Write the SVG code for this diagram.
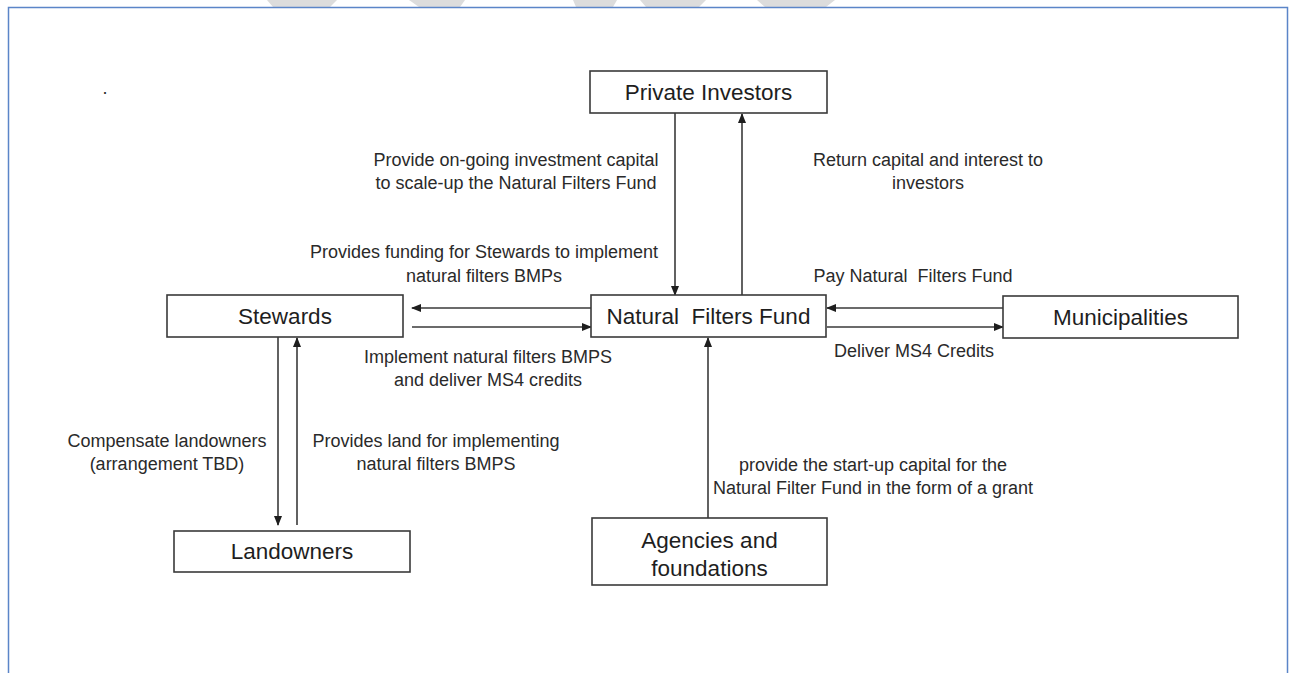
<svg xmlns="http://www.w3.org/2000/svg" width="1289" height="673" viewBox="0 0 1289 673">
<style>
.box{fill:#fff;stroke:#3a3a3a;stroke-width:1.6}
.node{font-family:"Liberation Sans",Arial,sans-serif;font-size:22.5px;fill:#1e1e1e;text-anchor:middle}
.lbl{font-family:"Liberation Sans",Arial,sans-serif;font-size:18px;fill:#2a2a2a;text-anchor:middle}
.ln{stroke:#3a3a3a;stroke-width:1.6;fill:none}
.wm{fill:#dcdcdc}
</style>
<defs>
<marker id="ah" markerWidth="10" markerHeight="8" refX="9" refY="4" orient="auto" markerUnits="userSpaceOnUse">
<path d="M0,0 L10,4 L0,8 Z" fill="#1e1e1e"/>
</marker>
</defs>
<rect width="1289" height="673" fill="#fff"/>
<g id="watermark">
<polygon class="wm" points="267,0 337,0 330,7 273,7"/>
<polygon class="wm" points="409,0 465,0 460,7 419,7"/>
<polygon class="wm" points="573,0 617,0 613,7 576,7"/>
<polygon class="wm" points="640,0 706,0 699,7 646,7"/>
<polygon class="wm" points="757,0 835,0 826,7 765,7"/>
</g>
<rect x="8.5" y="7.5" width="1279" height="700" fill="none" stroke="#5b85c8" stroke-width="1.5"/>
<text class="lbl" x="105" y="94">.</text>
<g id="connectors">
<line class="ln" x1="675" y1="113" x2="675" y2="295" marker-end="url(#ah)"/>
<line class="ln" x1="742" y1="295" x2="742" y2="114" marker-end="url(#ah)"/>
<line class="ln" x1="591" y1="308" x2="412" y2="308" marker-end="url(#ah)"/>
<line class="ln" x1="412" y1="327" x2="591" y2="327" marker-end="url(#ah)"/>
<line class="ln" x1="1003" y1="308" x2="827" y2="308" marker-end="url(#ah)"/>
<line class="ln" x1="827" y1="327" x2="1003" y2="327" marker-end="url(#ah)"/>
<line class="ln" x1="278" y1="337" x2="278" y2="525" marker-end="url(#ah)"/>
<line class="ln" x1="297" y1="525" x2="297" y2="338" marker-end="url(#ah)"/>
<line class="ln" x1="708" y1="518" x2="708" y2="338" marker-end="url(#ah)"/>
</g>
<g id="labels">
<text class="lbl" x="516" y="166">Provide on-going investment capital</text>
<text class="lbl" x="516" y="189">to scale-up the Natural Filters Fund</text>
<text class="lbl" x="928" y="166">Return capital and interest to</text>
<text class="lbl" x="928" y="189">investors</text>
<text class="lbl" x="484" y="258">Provides funding for Stewards to implement</text>
<text class="lbl" x="484" y="282">natural filters BMPs</text>
<text class="lbl" x="913" y="282" xml:space="preserve">Pay Natural  Filters Fund</text>
<text class="lbl" x="488" y="363">Implement natural filters BMPS</text>
<text class="lbl" x="488" y="386">and deliver MS4 credits</text>
<text class="lbl" x="914" y="357">Deliver MS4 Credits</text>
<text class="lbl" x="167" y="447">Compensate landowners</text>
<text class="lbl" x="167" y="470">(arrangement TBD)</text>
<text class="lbl" x="436" y="447">Provides land for implementing</text>
<text class="lbl" x="436" y="470">natural filters BMPS</text>
<text class="lbl" x="873" y="471">provide the start-up capital for the</text>
<text class="lbl" x="873" y="494">Natural Filter Fund in the form of a grant</text>
</g>
<g id="private-investors">
<rect class="box" x="590" y="71" width="237" height="42"/>
<text class="node" x="708.5" y="100">Private Investors</text>
</g>
<g id="stewards">
<rect class="box" x="167" y="295" width="236" height="42"/>
<text class="node" x="285" y="324">Stewards</text>
</g>
<g id="natural-filters-fund">
<rect class="box" x="591" y="295" width="235" height="42"/>
<text class="node" x="708.5" y="324" xml:space="preserve">Natural  Filters Fund</text>
</g>
<g id="municipalities">
<rect class="box" x="1003" y="296" width="235" height="42"/>
<text class="node" x="1120.5" y="325">Municipalities</text>
</g>
<g id="landowners">
<rect class="box" x="174" y="531" width="236" height="41"/>
<text class="node" x="292" y="559">Landowners</text>
</g>
<g id="agencies">
<rect class="box" x="592" y="518" width="235" height="67"/>
<text class="node" x="709.5" y="548">Agencies and</text>
<text class="node" x="709.5" y="576">foundations</text>
</g>
</svg>
